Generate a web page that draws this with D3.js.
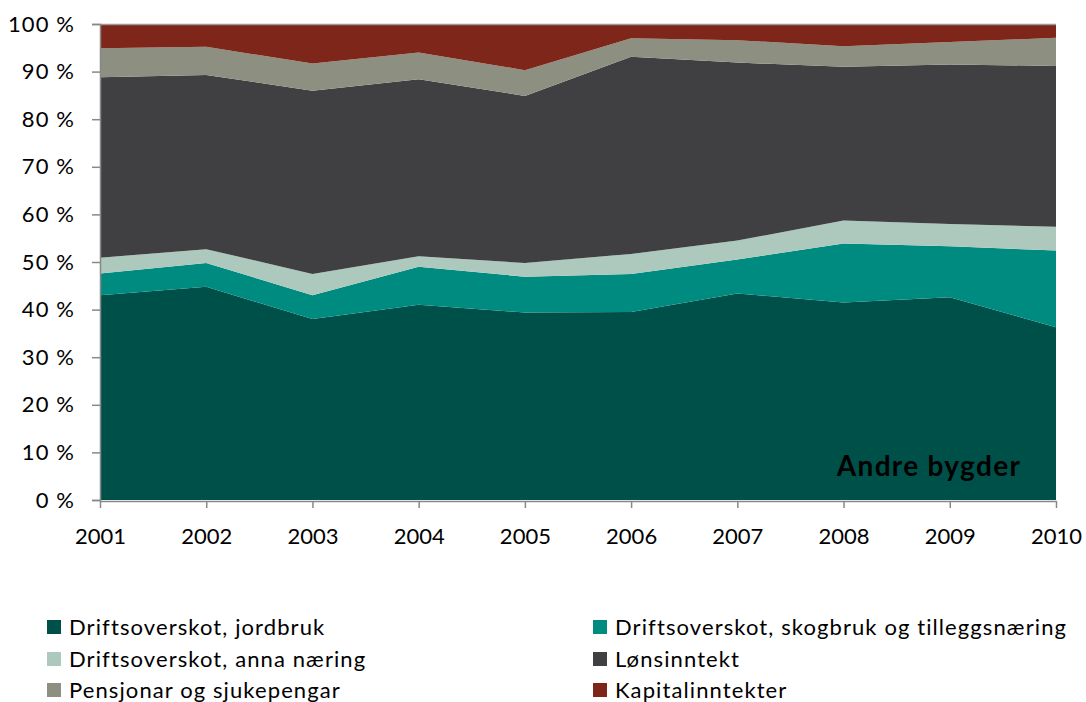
<!DOCTYPE html>
<html><head><meta charset="utf-8">
<script src="https://cdn.jsdelivr.net/npm/d3@7"></script>
<style>body{margin:0;background:#fff;} svg{display:block;font-family:Lato,"Open Sans",sans-serif;}</style>
</head><body>
<svg id="c" width="1086" height="702"></svg>
<script>
const years = ["2001","2002","2003","2004","2005","2006","2007","2008","2009","2010"];
const seriesNames = ["Driftsoverskot, jordbruk","Driftsoverskot, skogbruk og tilleggsnæring","Driftsoverskot, anna næring","Lønsinntekt","Pensjonar og sjukepengar","Kapitalinntekter"];
const jordbruk = [43.0,44.8,38.0,41.0,39.4,39.5,43.4,41.5,42.6,36.3];
const skogbruk = [4.6,5.0,5.0,8.0,7.5,8.0,7.1,12.4,10.7,16.1];
const annaNaering = [3.3,2.9,4.5,2.2,2.9,4.2,4.0,4.8,4.7,5.0];
const lonsinntekt = [37.9,36.6,38.5,37.2,35.1,41.4,37.4,32.3,33.5,33.8];
const pensjonar = [6.1,5.9,5.7,5.6,5.4,3.9,4.7,4.3,4.7,5.9];
const kapital = [5.1,4.8,8.3,6.0,9.7,3.0,3.4,4.7,3.8,2.9];
const yTicks = [0,10,20,30,40,50,60,70,80,90,100];
const colors = ["#00504a","#008b80","#adc9be","#404043","#8d8f81","#7e2619"];

const allSeries = [jordbruk,skogbruk,annaNaering,lonsinntekt,pensjonar,kapital];
const rows = years.map((y,i)=>{const r={year:y}; allSeries.forEach((s,k)=>r["s"+k]=s[i]); return r;});
const keys = allSeries.map((_,k)=>"s"+k);
const stack = d3.stack().keys(keys).offset(d3.stackOffsetExpand)(rows);

const svg = d3.select("#c");
const L=100,R=1056,T=24,B=500;
const x = d3.scalePoint().domain(years).range([L,R]);
const y = d3.scaleLinear().domain([0,1]).range([B,T]);

const area = d3.area().x(d=>x(d.data.year)).y0(d=>y(d[0])).y1(d=>y(d[1]));
svg.append("g").selectAll("path").data(stack).join("path")
  .attr("d",area).attr("fill",(d,i)=>colors[i]);

svg.append("line").attr("x1",L).attr("x2",R).attr("y1",T+0.5).attr("y2",T+0.5).attr("stroke","#999").attr("stroke-width",1.5);

const yAxis = svg.append("g").attr("transform",`translate(${L},0)`)
  .call(d3.axisLeft(y).tickValues(yTicks.map(v=>v/100)).tickSize(8).tickPadding(17).tickFormat(v=>Math.round(v*100)+" %"));
yAxis.select(".domain").attr("stroke","#888").attr("stroke-width",1.5);
yAxis.selectAll(".tick line").attr("stroke","#888").attr("stroke-width",1.5);
yAxis.selectAll("text").attr("font-size",22).attr("fill","#000").style("font-family","Lato,sans-serif").style("letter-spacing","1.1px");

const xAxis = svg.append("g").attr("transform",`translate(0,${B+1})`)
  .call(d3.axisBottom(x).tickSize(7).tickSizeOuter(0).tickPadding(20));
xAxis.select(".domain").attr("stroke","#888").attr("stroke-width",1.5);
xAxis.selectAll(".tick line").attr("stroke","#888").attr("stroke-width",1.5);
xAxis.selectAll("text").attr("font-size",22).attr("fill","#000").style("font-family","Lato,sans-serif");

svg.append("text").attr("x",929).attr("y",476).attr("text-anchor","middle")
  .attr("font-size",28).attr("font-weight","bold").attr("fill","#000").style("letter-spacing","1.3px").text("Andre bygder");

const legPos = [[47,627],[593,627],[47,659],[593,659],[47,690],[593,690]];
const lg = svg.append("g").selectAll("g").data(seriesNames).join("g")
  .attr("transform",(d,i)=>`translate(${legPos[i][0]},${legPos[i][1]})`);
lg.append("rect").attr("x",0).attr("y",-7).attr("width",14).attr("height",14).attr("fill",(d,i)=>colors[i]);
lg.append("text").attr("x",22).attr("y",8).attr("font-size",22).attr("fill","#000").style("letter-spacing","1.1px").text(d=>d);
</script>
</body></html>
